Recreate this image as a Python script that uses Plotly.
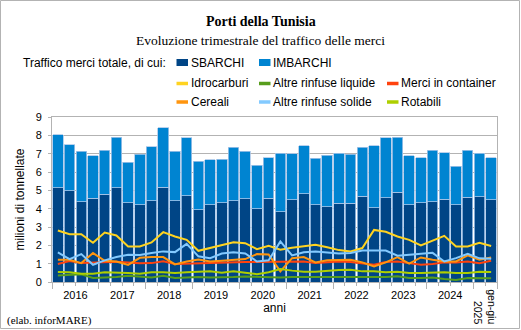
import plotly.graph_objects as go

# Quarterly periods: 2016 Q1 .. 2025 Q2
periods = [f"{y}-T{q}" for y in range(2016, 2025) for q in range(1, 5)] + ["2025-T1", "2025-T2"]

year_labels = ["2016", "2017", "2018", "2019", "2020", "2021", "2022", "2023", "2024"]
last_label = "gen-giu<br>2025"

# million tonnes
sbarchi = [5.13, 4.98, 4.38, 4.58, 4.78, 5.14, 4.33, 4.22, 4.44, 5.16, 4.42, 4.71,
           3.95, 4.22, 4.33, 4.44, 4.55, 4.00, 4.57, 3.84, 4.49, 4.82, 4.22, 4.11,
           4.29, 4.29, 4.67, 4.04, 4.60, 4.89, 4.22, 4.33, 4.37, 4.51, 4.22, 4.62,
           4.66, 4.49]
imbarchi = [2.91, 2.52, 2.74, 2.30, 2.41, 2.76, 2.21, 2.75, 2.93, 3.25, 2.70, 3.17,
            2.63, 2.45, 2.37, 2.92, 2.57, 2.38, 2.21, 3.19, 2.50, 2.61, 2.54, 2.81,
            2.74, 2.68, 2.67, 3.39, 3.26, 3.01, 2.68, 2.45, 2.82, 2.54, 2.10, 2.57,
            2.35, 2.29]

idrocarburi = [2.81, 2.61, 2.61, 2.14, 2.70, 2.54, 1.94, 1.94, 2.16, 2.72, 2.48, 2.30,
               1.70, 1.85, 1.99, 2.17, 2.12, 1.79, 1.97, 1.76, 1.87, 1.97, 2.03, 1.90,
               1.74, 1.67, 1.85, 2.84, 2.74, 2.48, 2.30, 1.99, 2.25, 2.52, 1.94, 1.94,
               2.14, 1.96]
altre_liquide = [0.36, 0.38, 0.42, 0.22, 0.24, 0.27, 0.34, 0.31, 0.24, 0.34, 0.22, 0.24,
                 0.27, 0.25, 0.25, 0.27, 0.30, 0.27, 0.25, 0.25, 0.27, 0.27, 0.25, 0.27,
                 0.25, 0.25, 0.25, 0.24, 0.27, 0.31, 0.22, 0.22, 0.24, 0.16, 0.11, 0.22,
                 0.22, 0.20]
container = [0.98, 1.14, 1.03, 1.05, 1.10, 1.10, 1.07, 1.02, 1.03, 1.13, 0.98, 1.00,
             1.05, 1.03, 1.09, 1.09, 1.09, 1.09, 1.09, 1.12, 1.12, 1.12, 1.03, 1.09,
             1.12, 1.09, 1.03, 0.94, 1.09, 1.12, 1.03, 0.94, 0.98, 1.07, 1.07, 1.12,
             1.03, 1.16]
cereali = [1.21, 1.21, 1.03, 1.58, 1.16, 1.12, 0.93, 1.32, 1.36, 1.36, 0.96, 1.12,
           1.23, 1.12, 1.16, 1.21, 1.25, 1.52, 1.50, 0.58, 1.30, 1.36, 1.07, 1.18,
           1.21, 1.21, 1.07, 0.85, 1.07, 1.36, 1.00, 1.34, 1.21, 1.12, 1.12, 1.45,
           1.21, 1.34]
altre_solide = [1.61, 1.25, 1.52, 0.94, 1.18, 1.36, 1.49, 1.47, 1.58, 1.67, 1.63, 2.08,
                1.40, 1.30, 1.55, 1.62, 1.56, 1.12, 1.18, 2.21, 1.45, 1.62, 1.67, 1.61,
                1.55, 1.58, 1.72, 1.72, 1.72, 1.43, 1.49, 1.52, 1.59, 1.12, 1.30, 1.54,
                1.29, 1.27]
rotabili = [0.54, 0.53, 0.45, 0.45, 0.53, 0.53, 0.49, 0.45, 0.53, 0.53, 0.49, 0.53,
            0.55, 0.58, 0.51, 0.58, 0.51, 0.43, 0.53, 0.71, 0.62, 0.56, 0.56, 0.62,
            0.65, 0.67, 0.58, 0.58, 0.53, 0.56, 0.49, 0.49, 0.53, 0.53, 0.49, 0.49,
            0.56, 0.54]

# ---------------------------------------------------------------- styling
W, H = 521, 330
ML, MR, MT, MB = 52, 24, 117, 48
PW, PH = W - ML - MR, H - MT - MB

SANS = "Liberation Sans, Arial, sans-serif"
SERIF = "Liberation Serif, Times New Roman, serif"
GRID = "#b3b3b3"

bar_series = [("SBARCHI", sbarchi, "#004586"), ("IMBARCHI", imbarchi, "#0084d1")]
line_series = [
    ("Idrocarburi", idrocarburi, "#ffd320"),
    ("Altre rinfuse liquide", altre_liquide, "#579d1c"),
    ("Merci in container", container, "#ff420e"),
    ("Cereali", cereali, "#ff950e"),
    ("Altre rinfuse solide", altre_solide, "#83caff"),
    ("Rotabili", rotabili, "#aecf00"),
]


def fx(px):
    return (px - ML) / PW


def fy(py):
    return (H - MB - py) / PH


x = list(range(len(periods)))
fig = go.Figure()

# stacked bars on the base x axis (carries the tick marks)
for name, vals, col in bar_series:
    fig.add_trace(go.Bar(x=x, y=vals, name=name, xaxis="x", yaxis="y",
                         marker=dict(color=col, line=dict(color="#a8c6e8", width=0.8)),
                         showlegend=False, customdata=periods))

# commodity lines on the overlaid x axis (carries the year labels)
for name, vals, col in line_series:
    fig.add_trace(go.Scatter(x=x, y=vals, name=name, mode="lines", xaxis="x2", yaxis="y",
                             line=dict(color=col, width=2), showlegend=False, customdata=periods))

n_years = len(year_labels)
year_centres = [4 * i + 1.5 for i in range(n_years)]
year_edges = [4 * i - 0.5 for i in range(n_years + 1)] + [len(periods) - 0.5]
bar_edges = [i - 0.5 for i in range(len(periods) + 1)]
xr = [-0.5, len(periods) - 0.5]

fig.update_layout(
    width=W, height=H,
    margin=dict(l=ML, r=MR, t=MT, b=MB),
    paper_bgcolor="white", plot_bgcolor="white",
    barmode="stack", bargap=0.1,
    font=dict(family=SANS, size=11, color="black"),
    xaxis=dict(range=xr, tickmode="array", tickvals=year_edges, ticks="outside", ticklen=6,
               tickcolor=GRID, showticklabels=False, showgrid=False, zeroline=False,
               showline=True, linecolor=GRID, mirror=True,
               minor=dict(tickmode="array", tickvals=bar_edges, ticks="outside", ticklen=3,
                          tickcolor=GRID, showgrid=False)),
    xaxis2=dict(overlaying="x", matches="x", anchor="y", range=xr, tickmode="array",
                tickvals=year_centres, ticktext=year_labels, ticks="", showgrid=False,
                zeroline=False, showline=False, tickfont=dict(size=11), ticklabelstandoff=5,
                title=dict(text="anni", font=dict(size=12), standoff=1)),
    yaxis=dict(range=[0, 9], dtick=1, showgrid=True, gridcolor=GRID, zeroline=False,
               showline=True, linecolor=GRID, mirror=True, ticks="outside", ticklen=3,
               tickcolor=GRID, tickfont=dict(size=11), ticklabelstandoff=4,
               title=dict(text="milioni di tonnellate", font=dict(size=12), standoff=8)),
)

annotations = [
    dict(text="<b>Porti della Tunisia</b>", x=fx(260.5), y=fy(21.5), font=dict(family=SERIF, size=14),
         xanchor="center", yanchor="middle"),
    dict(text="Evoluzione trimestrale del traffico delle merci", x=fx(260.5), y=fy(40.5),
         font=dict(family=SERIF, size=13.5), xanchor="center", yanchor="middle"),
    dict(text="Traffico merci totale, di cui:", x=fx(21), y=fy(62.5), font=dict(size=12),
         xanchor="left", yanchor="middle"),
    dict(text="(elab. inforMARE)", x=fx(5), y=fy(320.5), font=dict(family=SERIF, size=11),
         xanchor="left", yanchor="middle"),
]

shapes = [
    dict(type="rect", xref="paper", yref="paper", x0=fx(0.5), x1=fx(519.5), y0=fy(0.5), y1=fy(328.5),
         line=dict(color=GRID, width=1), fillcolor="rgba(0,0,0,0)", layer="below"),
]

# legend entries: (name, colour, kind, column left px, row centre px)
col_px = [176.5, 259, 387]
row_px = [62.5, 83.5, 102]
legend_items = [(n, c, "bar", col_px[i], row_px[0]) for i, (n, _, c) in enumerate(bar_series)]
legend_items += [(n, c, "line", col_px[i % 3], row_px[1 + i // 3]) for i, (n, _, c) in enumerate(line_series)]

for name, col, kind, lx, ly in legend_items:
    half = 3.5 if kind == "bar" else 1.75
    shapes.append(dict(type="rect", xref="paper", yref="paper", x0=fx(lx), x1=fx(lx + 11.5),
                       y0=fy(ly + half), y1=fy(ly - half), fillcolor=col, line=dict(width=0)))
    annotations.append(dict(text=name, x=fx(lx + 12), y=fy(ly), font=dict(size=12),
                            xanchor="left", yanchor="middle"))

for a in annotations:
    a.update(xref="paper", yref="paper", showarrow=False)

# partial-year label under the last two quarters, rotated like the spreadsheet tick text
annotations.append(dict(text=last_label, xref="x", yref="paper", x=len(periods) - 1.5, y=fy(306.5),
                        xanchor="center", yanchor="middle", textangle=90, showarrow=False,
                        align="right", font=dict(size=10.5)))

fig.update_layout(annotations=annotations, shapes=shapes)

fig.write_html("out.html")
